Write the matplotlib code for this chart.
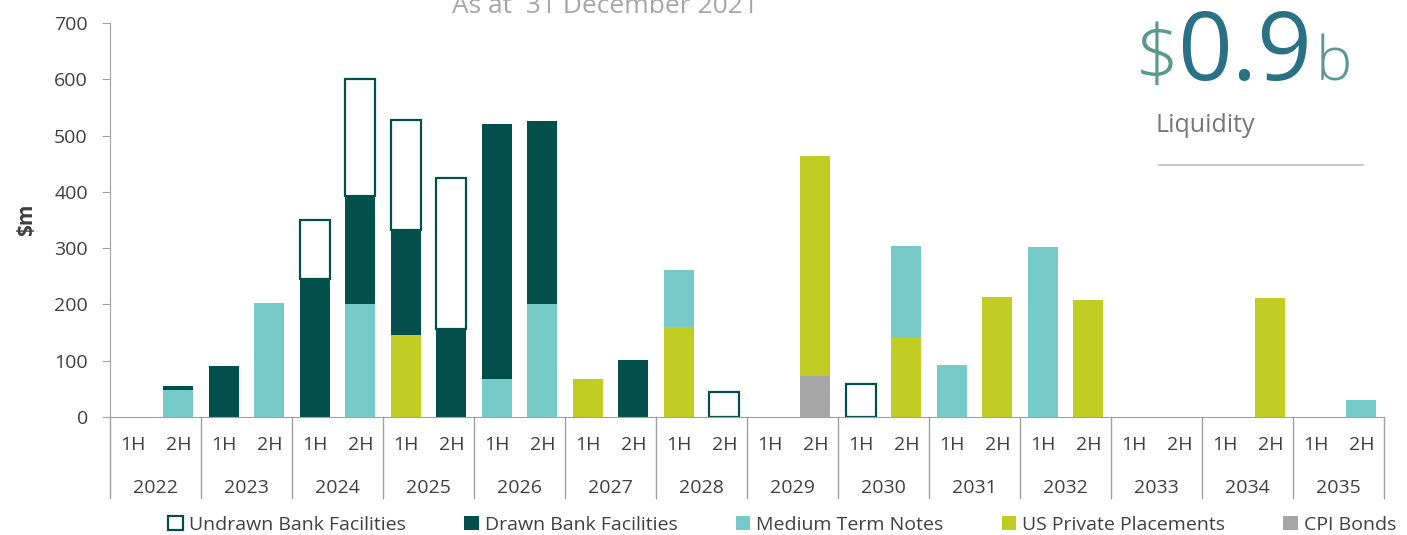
import numpy as np
import matplotlib
matplotlib.use("Agg")
import matplotlib.pyplot as plt
from matplotlib.patches import Patch
from matplotlib.transforms import blended_transform_factory

plt.rcParams["font.family"] = ["Open Sans", "DejaVu Sans"]

DARK = "#024f4b"
MTN_C = "#76cbc8"
USPP_C = "#c2cd23"
CPI_C = "#a6a6a6"
INK = "#404040"
AXIS = "#a0a0a0"

years = [str(y) for y in range(2022, 2036)]
halves = ["1H", "2H"]

# $m per half year, 2022 1H .. 2035 2H
cpi = [0, 0, 0, 0, 0, 0, 0, 0, 0, 0, 0, 0, 0, 0,
       0, 73, 0, 0, 0, 0, 0, 0, 0, 0, 0, 0, 0, 0]
uspp = [0, 0, 0, 0, 0, 0, 145, 0, 0, 0, 67, 0, 160, 0,
        0, 390, 0, 140, 0, 213, 0, 207, 0, 0, 0, 211, 0, 0]
mtn = [0, 48, 0, 202, 0, 200, 0, 0, 68, 200, 0, 0, 102, 0,
       0, 0, 0, 163, 92, 0, 302, 0, 0, 0, 0, 0, 0, 30]
drawn = [0, 7, 90, 0, 245, 192, 188, 157, 452, 325, 0, 102, 0, 0,
         0, 0, 0, 0, 0, 0, 0, 0, 0, 0, 0, 0, 0, 0]
undrawn = [0, 0, 0, 0, 105, 208, 194, 268, 0, 0, 0, 0, 0, 44,
           0, 0, 58, 0, 0, 0, 0, 0, 0, 0, 0, 0, 0, 0]

series = [
    ("CPI Bonds", cpi, dict(color=CPI_C)),
    ("US Private Placements", uspp, dict(color=USPP_C)),
    ("Medium Term Notes", mtn, dict(color=MTN_C)),
    ("Drawn Bank Facilities", drawn, dict(color=DARK)),
    ("Undrawn Bank Facilities", undrawn, dict(facecolor="white", edgecolor=DARK, linewidth=1.6)),
]

fig = plt.figure(figsize=(14.07, 5.35), dpi=100)
ax = fig.add_axes([0.0782, 0.2206, 0.9055, 0.7364])

x = np.arange(len(years) * 2)
bottom = np.zeros(len(x))
for name, vals, style in series:
    v = np.array(vals, dtype=float)
    m = v > 0  # skip empty segments so no stray edges are drawn
    ax.bar(x[m], v[m], width=0.66, bottom=bottom[m], label=name, zorder=2, **style)
    bottom += v

ax.set_xlim(-0.5, len(x) - 0.5)
ax.set_ylim(0, 700)
ax.set_yticks(range(0, 701, 100))
ax.tick_params(axis="y", labelsize=14, colors=AXIS, labelcolor=INK, length=6, pad=10)
ax.tick_params(axis="x", length=0, labelbottom=False)
ax.set_xticks([])
for s in ["top", "right"]:
    ax.spines[s].set_visible(False)
for s in ["left", "bottom"]:
    ax.spines[s].set_color(AXIS)
ax.set_ylabel("$m", fontsize=15, fontweight="bold", color=INK, labelpad=12)

# two-level category axis
tr = blended_transform_factory(ax.transData, ax.transAxes)
for i in range(len(x)):
    ax.text(i, -0.071, halves[i % 2], transform=tr, ha="center", va="center",
            fontsize=14, color=INK)
for j, yr in enumerate(years):
    ax.text(2 * j + 0.5, -0.18, yr, transform=tr, ha="center", va="center",
            fontsize=14, color=INK)
for j in range(len(years) + 1):
    ax.plot([2 * j - 0.5] * 2, [0, -0.205], transform=tr, color=AXIS, lw=1,
            clip_on=False)

# header texts
fig.text(0.43, 0.976, "As at  31 December 2021", ha="center", va="baseline",
         fontsize=19, color="#a6a6a6")
fig.text(0.8067, 0.850, "$", ha="left", va="baseline", fontsize=56,
         color="#5a9a8c", fontweight="light")
fig.text(0.8365, 0.850, "0.9", ha="left", va="baseline", fontsize=69,
         color="#2a7186")
fig.text(0.9348, 0.850, "b", ha="left", va="baseline", fontsize=44,
         color="#5a9a8c", fontweight="light")
fig.text(0.8210, 0.753, "Liquidity", ha="left", va="baseline", fontsize=18,
         color="#777777")
fig.add_artist(plt.Line2D([0.8237, 0.9687], [0.6916, 0.6916], color="#bfbfbf", lw=1.2))

handles = [
    Patch(facecolor="white", edgecolor=DARK, linewidth=1.6, label="Undrawn Bank Facilities"),
    Patch(facecolor=DARK, label="Drawn Bank Facilities"),
    Patch(facecolor=MTN_C, label="Medium Term Notes"),
    Patch(facecolor=USPP_C, label="US Private Placements"),
    Patch(facecolor=CPI_C, label="CPI Bonds"),
]
fig.legend(handles=handles, loc="center", bbox_to_anchor=(0.556, 0.019), ncol=5,
           frameon=False, fontsize=14, handlelength=0.75, handleheight=0.75,
           handletextpad=0.3, columnspacing=3.0, labelcolor=INK)

fig.savefig("out.png", dpi=100, facecolor="white")
